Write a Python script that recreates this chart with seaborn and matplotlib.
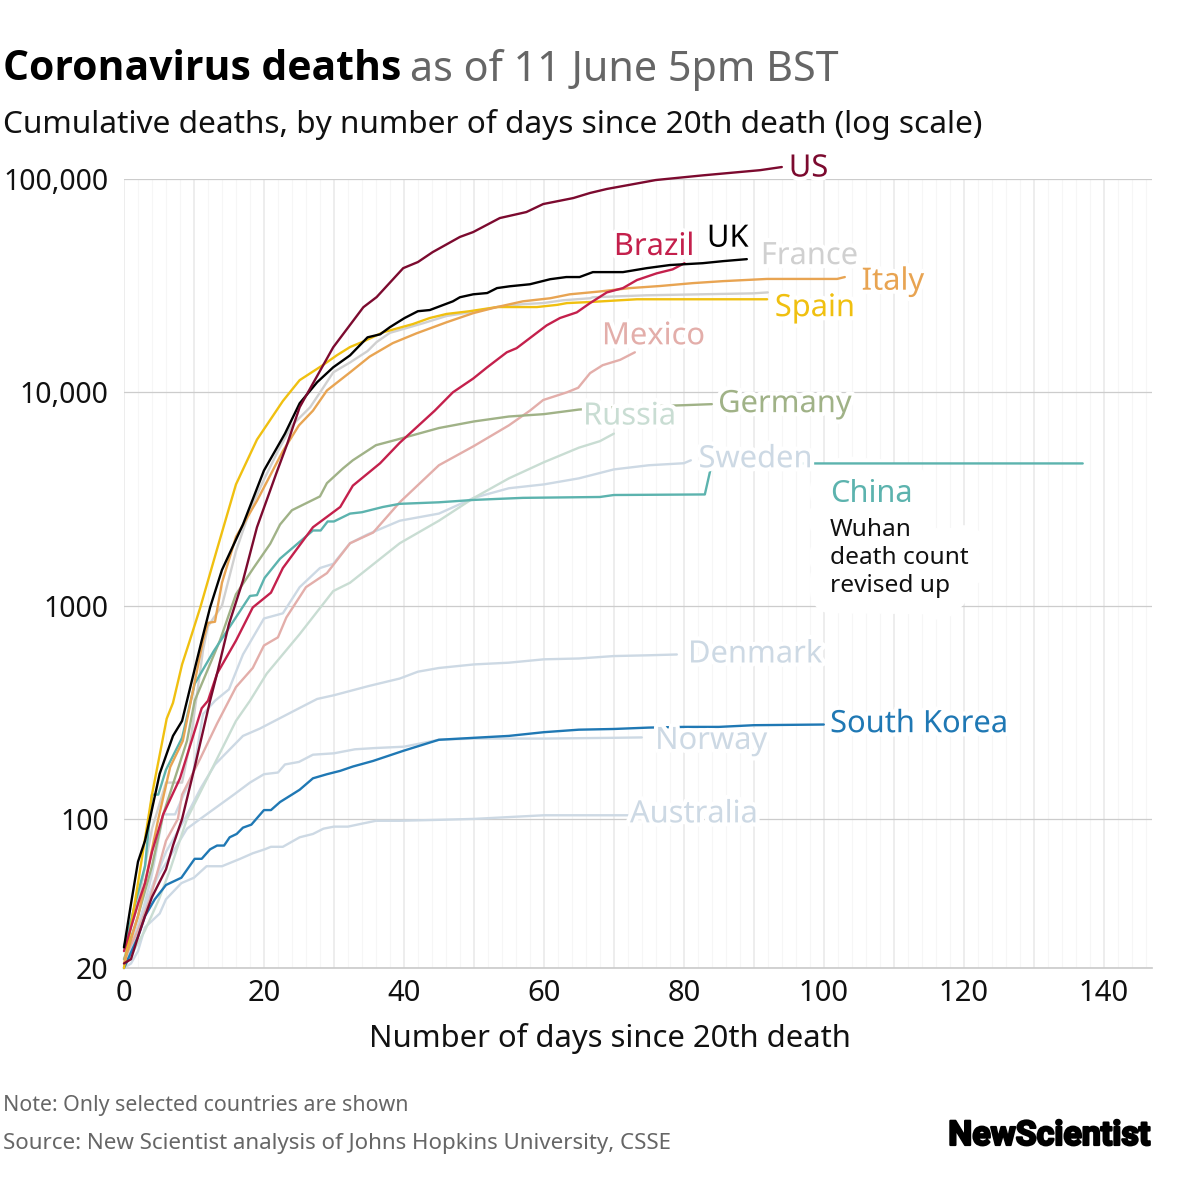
import pandas as pd
import seaborn as sns
import matplotlib.pyplot as plt
import matplotlib.patheffects as pe
from matplotlib.ticker import FixedLocator, FixedFormatter, NullLocator

# values: days since 20th death, cumulative deaths
us_days = [0, 1, 2, 3, 4, 5, 6, 7, 8.3, 10.1, 12.3, 13.3, 15, 17, 19, 21.8, 23.3, 25.1, 27, 29.9, 34.2, 36.1, 39.9, 42, 44.1, 48, 49.9, 53.7, 57.5, 59.9, 64.2, 66.6, 69, 73.7, 76, 82.7, 90.9, 94]
us_deaths = [21, 22, 28, 35, 43, 50, 58, 75, 100, 175, 358, 480, 820, 1310, 2330, 4200, 5700, 8510, 11000, 16260, 25050, 27950, 38200, 40800, 45400, 53500, 56400, 65600, 70000, 76300, 81400, 86000, 89800, 95800, 98900, 104000, 110000, 113800]

uk_days = [0, 1, 2, 3, 3.7, 5.1, 7, 8.3, 9.7, 11.1, 12.3, 14, 17, 20, 23, 25.1, 27.6, 29.9, 32.3, 34.8, 36.6, 38, 40.1, 42, 43.7, 47, 48, 49.9, 51.9, 53.3, 55.1, 58, 60.9, 63.2, 65.1, 67, 71.3, 74.7, 78, 82.7, 85.6, 89]
uk_deaths = [25, 40, 63, 79, 100, 163, 245, 288, 445, 685, 980, 1470, 2400, 4300, 6400, 8880, 11150, 13100, 14900, 18100, 18700, 20200, 22300, 24000, 24300, 26700, 27900, 28800, 29200, 30800, 31400, 32100, 33900, 34700, 34700, 36600, 36600, 38200, 39500, 40300, 41200, 42100]

spain_days = [0, 2, 4, 6.1, 7, 8.3, 9.4, 10.9, 13.3, 16, 19, 22.7, 23.7, 25.1, 28.4, 30.4, 32.3, 34.2, 37, 41.3, 43.7, 46.1, 49.4, 53.3, 59, 61.9, 63.3, 66.6, 73.3, 91.9]
spain_deaths = [20, 50, 130, 295, 350, 530, 685, 980, 1840, 3700, 6000, 9100, 10000, 11400, 13400, 14900, 16300, 17300, 19100, 20900, 22300, 23300, 24000, 25100, 25100, 25700, 26200, 26500, 27300, 27300]

italy_days = [0, 2, 3.5, 4.9, 6.6, 8.4, 11.3, 12, 13, 14, 16, 19, 22.7, 25, 27, 29, 32.3, 35.1, 38.4, 41.8, 46.1, 49.9, 53.3, 57, 60.9, 63.7, 66.6, 68, 72.3, 76.6, 81.3, 85.6, 91.9, 101.9, 103]
italy_deaths = [21, 35, 60, 100, 175, 232, 685, 830, 840, 1280, 2100, 3100, 5300, 7000, 8200, 10200, 12400, 14700, 17000, 18900, 21300, 23500, 25100, 26700, 27600, 28800, 29400, 29700, 30800, 31500, 32500, 33200, 34000, 34000, 34700]

france_days = [0, 2, 4, 6, 8.3, 9.5, 11.3, 12, 14, 16, 18, 20, 22, 24, 26.6, 28.2, 29.9, 32.3, 34.8, 36.1, 38, 39.9, 42.8, 46.1, 49.4, 53.3, 57, 59.9, 62.7, 66.6, 67, 74.7, 89.9, 92]
france_deaths = [25, 40, 90, 148, 148, 232, 620, 800, 1000, 1800, 2800, 3900, 5300, 7000, 8510, 10200, 12400, 13800, 15600, 17200, 19000, 19800, 21100, 22800, 23700, 25100, 25900, 26200, 27000, 27600, 27900, 28500, 29100, 29400]

brazil_days = [0, 2, 3, 4, 5.6, 8, 11.1, 12, 13.3, 16, 18.4, 21, 22.7, 27, 30.9, 32.7, 36.6, 39.4, 44.4, 47, 49.9, 51.9, 54.7, 56.1, 60.4, 62.3, 64.7, 66.6, 69, 71.3, 73.3, 76.1, 78.4, 80.1]
brazil_deaths = [24, 40, 50, 70, 105, 155, 330, 358, 480, 685, 980, 1150, 1500, 2330, 2900, 3650, 4650, 5800, 8200, 10000, 11600, 13100, 15400, 16100, 20600, 22300, 23700, 26200, 29400, 30800, 33600, 36100, 37700, 40300]

mexico_days = [0, 2, 3.7, 6, 7.7, 8.3, 10.9, 13.3, 16, 18.4, 20, 22, 23.2, 26, 29, 32.3, 35.6, 39.4, 45, 50, 55, 58, 59.9, 63.3, 64.9, 66.6, 68.4, 70.9, 73]
mexico_deaths = [22, 30, 42, 79, 100, 130, 192, 280, 415, 510, 650, 710, 880, 1220, 1420, 1960, 2200, 3050, 4550, 5600, 7000, 8200, 9200, 10000, 10500, 12300, 13400, 14200, 15400]

germany_days = [0, 2, 4, 5.6, 9, 10.1, 13.7, 16, 18.5, 20.9, 22.3, 24, 28, 29, 31.3, 32.7, 36, 39, 45, 50, 55, 60, 65, 70, 75, 80, 84]
germany_deaths = [22, 35, 60, 105, 232, 358, 685, 1130, 1500, 1950, 2400, 2800, 3250, 3750, 4400, 4800, 5650, 6000, 6800, 7300, 7700, 7900, 8300, 8500, 8600, 8700, 8800]

russia_days = [0, 3, 5, 6.6, 9, 12.7, 16, 18, 20.4, 25.1, 29.9, 32.3, 39.4, 45, 50, 55, 60, 65, 68, 70]
russia_deaths = [20, 30, 42, 58, 100, 175, 288, 358, 480, 735, 1170, 1280, 1960, 2500, 3200, 3950, 4700, 5500, 5900, 6400]

sweden_days = [0, 2, 4, 5.6, 7.3, 9.9, 11.3, 13, 15, 17, 20, 22.7, 25.1, 28, 29.9, 32.3, 34.7, 39.4, 45, 50, 55, 60, 65, 70, 75, 80, 81]
sweden_deaths = [20, 30, 55, 105, 105, 165, 310, 358, 405, 590, 870, 920, 1220, 1500, 1570, 1960, 2150, 2500, 2700, 3200, 3550, 3700, 3950, 4350, 4550, 4650, 4800]

denmark_days = [0, 2, 4, 6, 8.7, 11, 13, 17, 19.4, 25, 27.6, 30, 35, 39.4, 42, 45, 50, 55, 60, 65, 70, 75, 79]
denmark_deaths = [20, 30, 48, 70, 100, 140, 180, 245, 265, 330, 365, 380, 420, 455, 490, 510, 530, 540, 560, 565, 580, 585, 590]

norway_days = [0, 3, 5, 7, 9, 10.9, 15.7, 18, 20, 22, 23, 25, 27, 30, 33, 36, 40, 45, 50, 60, 70, 74]
norway_deaths = [20, 40, 55, 70, 90, 100, 130, 148, 162, 165, 180, 185, 200, 203, 212, 215, 218, 235, 238, 238, 240, 241]

australia_days = [0, 1, 2, 3, 5.1, 6, 8.2, 10, 11.8, 14, 16.6, 18.4, 20.1, 21, 22.7, 25.1, 27, 28.5, 30, 32, 34, 36, 39.4, 45, 50, 55, 60, 72]
australia_deaths = [20, 21, 24, 31, 36, 42, 50, 53, 60, 60, 65, 69, 72, 74, 74, 82, 85, 90, 92, 92, 95, 98, 98, 99, 100, 102, 104, 104]

korea_days = [0, 2, 3, 4.4, 6, 8.2, 10.1, 11.1, 12.3, 13.3, 14.3, 15.1, 16.1, 17, 18.2, 20, 21, 22.3, 24, 25.1, 27, 29, 30.9, 32.7, 35.6, 40, 45, 50, 55, 60, 65, 70, 75, 80, 85, 90, 95, 100]
korea_deaths = [20, 28, 35, 42, 49, 53, 65, 65, 72, 75, 75, 82, 85, 91, 94, 110, 110, 120, 130, 137, 155, 162, 168, 176, 187, 209, 235, 240, 245, 255, 262, 264, 268, 270, 270, 275, 276, 277]

china_days = [0, 2, 3, 4, 4.9, 6, 8.3, 10.1, 12.8, 18, 19, 20.1, 22.3, 25.1, 27, 28.1, 29.1, 30, 32.3, 34, 37, 39.4, 45, 50, 55, 57, 68, 70, 83, 84, 137]
china_deaths = [25, 45, 60, 130, 130, 170, 240, 430, 610, 1110, 1120, 1350, 1660, 1990, 2250, 2250, 2480, 2480, 2700, 2740, 2900, 3000, 3050, 3130, 3180, 3200, 3230, 3300, 3320, 4640, 4640]

countries = ['Australia', 'Norway', 'Denmark', 'Sweden', 'Russia', 'France', 'Mexico', 'Germany',
             'China', 'South Korea', 'Spain', 'Italy', 'Brazil', 'UK', 'US']
all_days = [australia_days, norway_days, denmark_days, sweden_days, russia_days, france_days, mexico_days,
            germany_days, china_days, korea_days, spain_days, italy_days, brazil_days, uk_days, us_days]
all_deaths = [australia_deaths, norway_deaths, denmark_deaths, sweden_deaths, russia_deaths, france_deaths,
              mexico_deaths, germany_deaths, china_deaths, korea_deaths, spain_deaths, italy_deaths,
              brazil_deaths, uk_deaths, us_deaths]

pale_blue = '#cdd9e4'
colors = {'US': '#7c0a2f', 'Brazil': '#c4204c', 'UK': '#000000', 'France': '#d0d0d0', 'Italy': '#e8a452',
          'Spain': '#f0c010', 'Mexico': '#e3aeaa', 'Germany': '#a0b287', 'Russia': '#c9ddd3',
          'Sweden': pale_blue, 'China': '#5cb3ae', 'Denmark': pale_blue, 'South Korea': '#1f78b4',
          'Norway': pale_blue, 'Australia': pale_blue}

# where the country names go, in data coordinates
label_pos = {'US': (95, 112000), 'Brazil': (70, 48000), 'UK': (83.3, 52500), 'France': (91, 43500),
             'Italy': (105.4, 33000), 'Spain': (93, 24800), 'Mexico': (68.3, 18300), 'Germany': (84.9, 8800),
             'Russia': (65.6, 7700), 'Sweden': (82.1, 4850), 'China': (100.9, 3330), 'Denmark': (80.6, 590),
             'South Korea': (100.9, 278), 'Norway': (75.9, 232), 'Australia': (72.3, 105)}

df = pd.concat([pd.DataFrame({'country': c, 'days': d, 'deaths': v})
                for c, d, v in zip(countries, all_days, all_deaths)])

sns.set_theme(style='white')
plt.rcParams['font.family'] = ['Noto Sans', 'DejaVu Sans']

fig = plt.figure(figsize=(12, 12), dpi=100)
ax = fig.add_axes([124 / 1200, 1 - 968 / 1200, (1152 - 124) / 1200, (968 - 179) / 1200])

sns.lineplot(data=df, x='days', y='deaths', hue='country', hue_order=countries, palette=colors,
             estimator=None, sort=False, linewidth=1.7, legend=False, ax=ax, zorder=3, clip_on=False)

ax.set_yscale('log')
ax.set_xlim(0, 146.9)
ax.set_ylim(20, 100000)
ax.set_axisbelow(True)

ax.yaxis.set_major_locator(FixedLocator([20, 100, 1000, 10000, 100000]))
ax.yaxis.set_major_formatter(FixedFormatter(['20', '100', '1000', '10,000', '100,000']))
ax.yaxis.set_minor_locator(NullLocator())
ax.xaxis.set_major_locator(FixedLocator(list(range(0, 150, 10))))
ax.xaxis.set_major_formatter(FixedFormatter([str(d) if d % 20 == 0 else '' for d in range(0, 150, 10)]))
ax.xaxis.set_minor_locator(FixedLocator(list(range(0, 148, 2))))

ax.grid(True, axis='y', which='major', color='#cccccc', linewidth=0.9)
ax.grid(True, axis='x', which='major', color='#e8e8e8', linewidth=1.1)
ax.grid(True, axis='x', which='minor', color='#f6f6f6', linewidth=0.8)

sns.despine(ax=ax, left=True, top=True, right=True)
ax.spines['bottom'].set_color('#cccccc')
ax.tick_params(axis='y', length=0, labelsize=20.5, pad=11, colors='#111111')
ax.tick_params(axis='x', which='major', direction='in', length=5, width=0.8, color='#888888',
               labelsize=21, pad=8, labelcolor='#111111')
ax.tick_params(axis='x', which='minor', length=0)
ax.set_xlabel('Number of days since 20th death', fontsize=22.3, labelpad=11, color='#111111', x=0.473)
ax.set_ylabel('')

halo = [pe.withStroke(linewidth=6, foreground='white')]
wide_halo = [pe.withStroke(linewidth=32, foreground='white')]
note = 'Wuhan\ndeath count\nrevised up'

# white patch under the China note, drawn first so it cannot eat the text lines
ax.text(*label_pos['China'], 'China', color='white', fontsize=22, va='center', ha='left',
        path_effects=wide_halo, zorder=2.5)
ax.text(100.9, 1680, note, fontsize=17.6, color='white', va='center', ha='left', linespacing=1.22,
        path_effects=wide_halo, zorder=2.5)
ax.text(100.9, 1680, note, fontsize=17.6, color='#111111', va='center', ha='left', linespacing=1.22, zorder=2.6)

for name, (x, y) in label_pos.items():
    ax.text(x, y, name, color=colors[name], fontsize=22.2, va='center', ha='left',
            path_effects=None if name == 'China' else halo, zorder=2.6 if name == 'China' else 4)

fig.text(3 / 1200, 1 - 70 / 1200, 'Coronavirus deaths', fontsize=29.4, fontweight='bold', family='Open Sans',
         color='#000000', va='center')
fig.text(410 / 1200, 1 - 70 / 1200, 'as of 11 June 5pm BST', fontsize=29.7, color='#666666', va='center')
fig.text(3 / 1200, 1 - 124 / 1200, 'Cumulative deaths, by number of days since 20th death (log scale)',
         fontsize=22.75, color='#111111', va='center')
fig.text(3 / 1200, 1 - 1106 / 1200, 'Note: Only selected countries are shown', fontsize=15.4, color='#666666', va='center')
fig.text(3 / 1200, 1 - 1144 / 1200, 'Source: New Scientist analysis of Johns Hopkins University, CSSE',
         fontsize=16.07, color='#666666', va='center')
fig.text(1150 / 1200, 1 - 1136 / 1200, 'NewScientist', fontsize=24.5, fontweight='bold',
         family='Roboto', color='#000000', va='center', ha='right',
         path_effects=[pe.withStroke(linewidth=1.6, foreground='black')])

fig.savefig('out.png', dpi=100, facecolor='white')
